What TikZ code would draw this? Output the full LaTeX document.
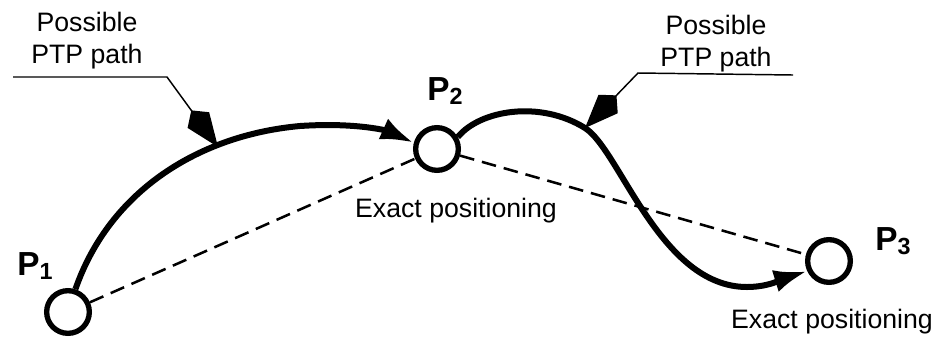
\documentclass[tikz,border=0pt]{standalone}
\usepackage{fontspec}
\setmainfont{Liberation Sans}
\usetikzlibrary{arrows.meta}

\begin{document}
\begin{tikzpicture}[x=0.75pt, y=-0.75pt,
    punkt/.style={circle, draw, line width=4pt, minimum size=32pt, inner sep=0pt},
    bahn/.style={line width=4.5pt, -{Latex[length=25pt,width=17pt]}},
    gerade/.style={line width=1.9pt, dash pattern=on 11pt off 6pt},
    hinweis/.style={line width=1.1pt, -{Kite[length=34pt,width=20pt,inset=9pt]}},
    txt/.style={font=\fontsize{20}{24}\selectfont, align=center, inner sep=0pt},
    plabel/.style={font=\fontsize{25}{25}\selectfont\bfseries, anchor=base west, inner sep=0pt}]
% Rahmen
\useasboundingbox (0,0) rectangle (949,344);

% Punkte
\node[punkt] (p1) at (68,312) {};
\node[punkt] (p2) at (437,149) {};
\node[punkt] (p3) at (829,261) {};

% Beschriftungen der Punkte
\node[plabel] (l1) at (17,275) {P\textsubscript{1}};
\node[plabel] (l2) at (427,100) {P\textsubscript{2}};
\node[plabel] (l3) at (875,250) {P\textsubscript{3}};

% Gerade Verbindungen
\draw[gerade] (p1) -- (p2);
\draw[gerade] (p2) -- (p3);

% PTP-Bahnen
\draw[bahn] (p1.72) .. controls (110,190) and (200,135) .. (300,126)
    .. controls (360,122) and (390,132) .. (p2.165);
\draw[bahn] (p2.30) .. controls (480,110) and (540,100) .. (585,128)
    .. controls (620,150) and (660,287) .. (747,287)
    .. controls (770,287) and (785,278) .. (p3.205);

% Texte
\node[txt] (t1) at (87,41) {Possible\\PTP path};
\node[txt] (t2) at (716,44) {Possible\\PTP path};
\node[txt, anchor=base] (e2) at (456,217) {Exact positioning};
\node[txt, anchor=base] (e3) at (832,328) {Exact positioning};

% Hinweislinien
\coordinate (a1) at (13,77);
\coordinate (b1) at (167,77);
\coordinate (c1) at (218,147);
\draw[hinweis] (a1) -- (b1) -- (c1);

\coordinate (a2) at (793,75);
\coordinate (b2) at (638,73);
\coordinate (c2) at (585,128);
\draw[hinweis] (a2) -- (b2) -- (c2);

\end{tikzpicture}
\end{document}
